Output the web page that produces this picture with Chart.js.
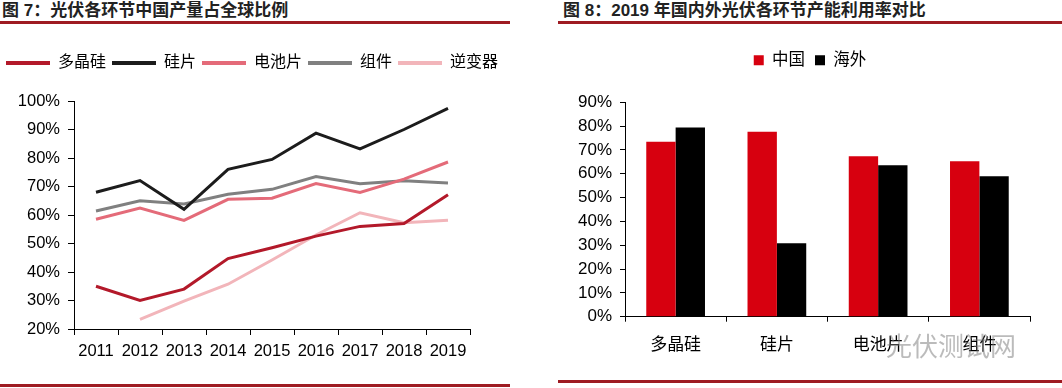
<!DOCTYPE html>
<html><head><meta charset="utf-8">
<script src="https://cdn.jsdelivr.net/npm/chart.js@4.4.0/dist/chart.umd.min.js"></script>
<style>
html,body{margin:0;padding:0;background:#fff;width:1062px;height:388px;overflow:hidden;}
.title{position:absolute;top:1px;font-weight:bold;font-size:17px;font-family:"Liberation Sans","Noto Sans CJK SC",sans-serif;color:#222;line-height:20px;white-space:nowrap;}
.rule{position:absolute;height:3px;background:#9e1b22;}
.box{position:absolute;}
.wm{position:absolute;left:886px;top:326px;font-size:26px;font-family:"Noto Sans CJK SC",sans-serif;color:rgba(120,120,120,0.5);white-space:nowrap;}
</style></head><body>
<div class="title" style="left:2px;">图 7：光伏各环节中国产量占全球比例</div>
<div class="rule" style="left:0;top:21px;width:510px"></div>
<div class="rule" style="left:0;top:384px;width:510px"></div>
<div class="title" style="left:563px;">图 8：2019 年国内外光伏各环节产能利用率对比</div>
<div class="rule" style="left:558px;top:21px;width:504px"></div>
<div class="rule" style="left:558px;top:380px;width:504px"></div>
<div class="box" style="left:0;top:40px;width:515px;height:340px"><canvas id="c1" width="515" height="340"></canvas></div>
<div class="box" style="left:558px;top:40px;width:504px;height:340px"><canvas id="c2" width="504" height="340"></canvas></div>
<div class="wm">光伏测试网</div>
<script>
// ---- Figure 7 data ----
const years = ['2011','2012','2013','2014','2015','2016','2017','2018','2019'];
const polysilicon = [35, 30, 34, 44.7, 48.5, 52.6, 56, 57, 67.1];
const wafer = [68, 72.1, 62, 76, 79.5, 88.7, 83.2, 90, 97.4];
const cell = [58.5, 62.4, 58.1, 65.5, 65.9, 71, 67.9, 72.6, 78.6];
const moduleShare = [61.4, 65, 63.9, 67.3, 69, 73.5, 71, 72, 71.2];
const inverter = [null, 23.4, 29.8, 35.7, 44.2, 53, 60.8, 57.3, 58.2];
const seriesNames7 = ['多晶硅','硅片','电池片','组件','逆变器'];

// ---- Figure 8 data ----
const segments = ['多晶硅','硅片','电池片','组件'];
const china = [73.4, 77.6, 67.4, 65.3];
const overseas = [79.4, 30.8, 63.6, 59.0];
const seriesNames8 = ['中国','海外'];

const FONT = '"Liberation Sans","Noto Sans CJK SC",sans-serif';
Chart.defaults.font.family = FONT;
Chart.defaults.color = '#000';
Chart.defaults.animation = false;

function legendHeight(h){
  return {id:'lh', beforeInit(chart){
    const fit = chart.legend.fit;
    chart.legend.fit = function(){ fit.call(this); this.height = h; };
  }};
}
function lineLegendLabels(chart){
  const items = Chart.defaults.plugins.legend.labels.generateLabels(chart);
  items.forEach(i=>{ i.fillStyle = i.strokeStyle; i.lineWidth = 0; });
  return items;
}
function spacerAxis(w){
  return {position:'right', display:true, grid:{display:false, drawTicks:false}, border:{display:false},
          ticks:{display:false}, afterFit(s){ s.width = w; }};
}

const colors7 = ['#b3192a','#1c1c1c','#e46b79','#808080','#f2b5ba'];
const data7 = [polysilicon, wafer, cell, moduleShare, inverter];

new Chart(document.getElementById('c1'), {
  type:'line',
  data:{labels:years, datasets: data7.map((d,i)=>({
    label:seriesNames7[i], data:d, borderColor:colors7[i], backgroundColor:colors7[i],
    borderWidth:3, pointRadius:0, tension:0, spanGaps:false
  }))},
  options:{
    responsive:false,
    layout:{padding:{top:9,left:0,right:0,bottom:0}},
    plugins:{
      legend:{position:'top', align:'start',
        labels:{boxWidth:44, boxHeight:4, padding:6, color:'#000', font:{size:16, family:FONT}, generateLabels:lineLegendLabels}},
      tooltip:{enabled:false}
    },
    scales:{
      x:{offset:true,
        grid:{offset:true, drawOnChartArea:false, drawTicks:true, tickLength:6, color:'#000'},
        border:{color:'#000', width:1},
        ticks:{font:{size:16.5}, color:'#000', padding:7, maxRotation:0, autoSkip:false},
        afterFit(s){ s.height = 51; }
      },
      y:{min:20, max:100,
        grid:{drawOnChartArea:false, tickLength:6, color:'#000'},
        border:{color:'#000', width:1},
        ticks:{stepSize:10, font:{size:16.5}, color:'#000', padding:8, callback:v=>v+'%'},
        afterFit(s){ s.width = 74; }
      },
      yr: spacerAxis(45)
    }
  },
  plugins:[legendHeight(52)]
});

new Chart(document.getElementById('c2'), {
  type:'bar',
  data:{labels:segments, datasets:[
    {label:seriesNames8[0], data:china, backgroundColor:'#d7000f', borderWidth:0},
    {label:seriesNames8[1], data:overseas, backgroundColor:'#000000', borderWidth:0}
  ]},
  options:{
    responsive:false,
    layout:{padding:{top:2,left:0,right:0,bottom:0}},
    datasets:{bar:{categoryPercentage:0.58, barPercentage:1}},
    plugins:{
      legend:{position:'top', align:'center',
        labels:{boxWidth:10, boxHeight:10, padding:10, color:'#000', font:{size:16.5, family:FONT}}},
      tooltip:{enabled:false}
    },
    scales:{
      x:{
        grid:{offset:true, drawOnChartArea:false, drawTicks:true, tickLength:5, color:'#000'},
        border:{color:'#000', width:1},
        ticks:{font:{size:17}, color:'#000', padding:13, maxRotation:0},
        afterFit(s){ s.height = 63.3; }
      },
      y:{min:0, max:90,
        grid:{drawOnChartArea:false, tickLength:5, color:'#000'},
        border:{color:'#000', width:1},
        ticks:{stepSize:10, font:{size:17}, color:'#000', padding:8, callback:v=>v+'%'},
        afterFit(s){ s.width = 67; }
      },
      yr: spacerAxis(32)
    }
  },
  plugins:[legendHeight(60.3)]
});
</script>
</body></html>
